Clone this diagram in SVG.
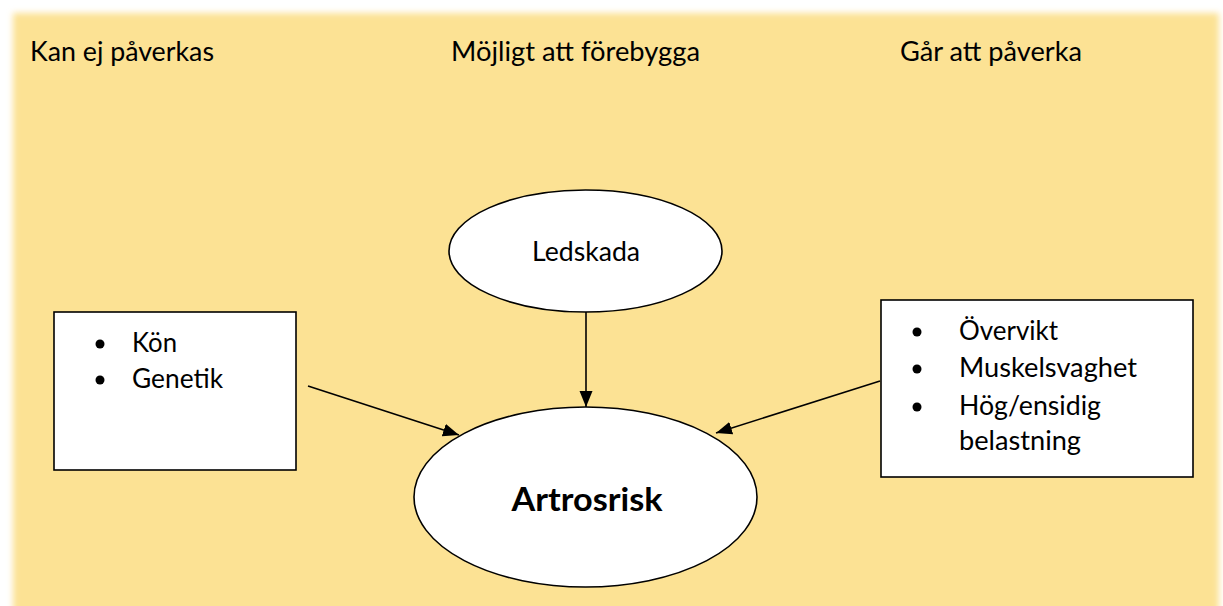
<svg xmlns="http://www.w3.org/2000/svg" width="1223" height="606" viewBox="0 0 1223 606">
<style>
.t{font-family:Lato,"Open Sans","Liberation Sans",sans-serif;font-size:26px;fill:#000}
.b{font-weight:bold;font-size:33px}
.shape{fill:#fff;stroke:#000;stroke-width:1.6}
.conn{stroke:#000;stroke-width:1.6;fill:none;marker-end:url(#ah)}
</style>
<defs>
<filter id="soft" x="-5%" y="-5%" width="110%" height="110%"><feGaussianBlur stdDeviation="3"/></filter>
<marker id="ah" markerUnits="userSpaceOnUse" markerWidth="17" markerHeight="14" refX="16" refY="6.5" orient="auto"><path d="M0,0 L16,6.5 L0,13 z" fill="#000"/></marker>
</defs>
<rect width="1223" height="606" fill="#fff"/>
<rect x="13" y="13" width="1206" height="620" fill="#FCE294" filter="url(#soft)"/>
<g id="headings">
<text class="t" x="30" y="61" textLength="184" lengthAdjust="spacingAndGlyphs">Kan ej påverkas</text>
<text class="t" x="451" y="61" textLength="249" lengthAdjust="spacingAndGlyphs">Möjligt att förebygga</text>
<text class="t" x="900" y="61" textLength="182" lengthAdjust="spacingAndGlyphs">Går att påverka</text>
</g>
<g id="connectors">
<line class="conn" x1="586" y1="312" x2="586" y2="407"/>
<line class="conn" x1="308" y1="386" x2="459" y2="435"/>
<line class="conn" x1="880" y1="381" x2="716" y2="433"/>
</g>
<g id="left-box">
<rect class="shape" x="54" y="312" width="242" height="158"/>
<circle cx="100" cy="344" r="4.5"/>
<circle cx="100" cy="380" r="4.5"/>
<text class="t" x="132" y="352" textLength="45" lengthAdjust="spacingAndGlyphs">Kön</text>
<text class="t" x="132" y="388" textLength="91" lengthAdjust="spacingAndGlyphs">Genetik</text>
</g>
<g id="right-box">
<rect class="shape" x="881" y="300" width="312" height="177"/>
<circle cx="917" cy="332" r="4.5"/>
<circle cx="917" cy="369" r="4.5"/>
<circle cx="917" cy="407" r="4.5"/>
<text class="t" x="959" y="340" textLength="99" lengthAdjust="spacingAndGlyphs">Övervikt</text>
<text class="t" x="959" y="377" textLength="178" lengthAdjust="spacingAndGlyphs">Muskelsvaghet</text>
<text class="t" x="959" y="415" textLength="142" lengthAdjust="spacingAndGlyphs">Hög/ensidig</text>
<text class="t" x="959" y="450" textLength="122" lengthAdjust="spacingAndGlyphs">belastning</text>
</g>
<g id="ledskada">
<ellipse class="shape" cx="585.5" cy="251" rx="136.5" ry="61"/>
<text class="t" x="586" y="261" text-anchor="middle" textLength="108" lengthAdjust="spacingAndGlyphs">Ledskada</text>
</g>
<g id="artrosrisk">
<ellipse class="shape" cx="585.5" cy="497" rx="171.5" ry="90"/>
<text class="t b" x="587" y="511" text-anchor="middle" textLength="151" lengthAdjust="spacingAndGlyphs">Artrosrisk</text>
</g>
</svg>
